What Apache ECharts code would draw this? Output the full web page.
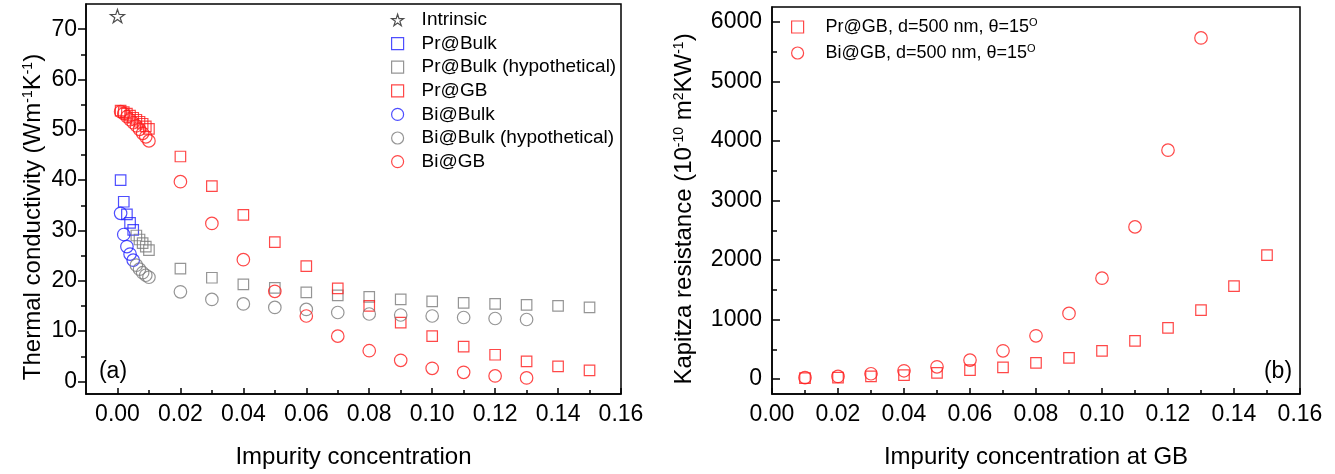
<!DOCTYPE html>
<html>
<head>
<meta charset="utf-8">
<script src="https://cdn.jsdelivr.net/npm/echarts@6/dist/echarts.min.js"></script>
<style>
  html, body { margin: 0; padding: 0; background: #fff; }
  #main { width: 1335px; height: 474px; }
</style>
</head>
<body>
<div id="main"></div>
<script>
// ---- data ----
var lowX = [0.001, 0.002, 0.003, 0.004, 0.005, 0.006, 0.007, 0.008, 0.009, 0.010]
var coarseX = [0.02, 0.03, 0.04, 0.05, 0.06, 0.07, 0.08, 0.09, 0.10, 0.11, 0.12, 0.13, 0.14, 0.15]

var intrinsicX = [0]
var intrinsic = [72.6]
var prBulk = [40.0, 35.7, 33.2, 31.5, 30.1]
var prBulkHyp = [29.0, 28.2, 27.5, 26.8, 26.1, 22.4, 20.6, 19.3, 18.6, 17.7, 17.1, 16.8, 16.3, 15.9, 15.6, 15.4, 15.2, 15.0, 14.7]
var prGB = [53.8, 53.5, 53.2, 52.8, 52.4, 52.0, 51.6, 51.2, 50.7, 50.2, 44.7, 38.8, 33.1, 27.7, 22.9, 18.5, 15.0, 11.7, 9.0, 6.9, 5.3, 4.0, 3.0, 2.2]
var biBulk = [33.4, 29.2, 26.8, 25.3, 24.1]
var biBulkHyp = [23.1, 22.3, 21.6, 21.1, 20.7, 17.8, 16.3, 15.4, 14.7, 14.3, 13.7, 13.4, 13.2, 13.0, 12.7, 12.5, 12.3]
var biGB = [53.6, 53.2, 52.6, 52.0, 51.4, 50.8, 50.1, 49.3, 48.6, 47.8, 39.7, 31.4, 24.2, 17.9, 13.0, 9.0, 6.1, 4.2, 2.6, 1.8, 1.1, 0.7]

var gbX = [0.01, 0.02, 0.03, 0.04, 0.05, 0.06, 0.07, 0.08, 0.09, 0.10, 0.11, 0.12, 0.13, 0.14, 0.15]
var prKapitza = [15, 25, 45, 67, 106, 151, 196, 274, 358, 475, 643, 862, 1159, 1562, 2082]
var biKapitza = [25, 45, 90, 140, 207, 319, 475, 727, 1103, 1696, 2557, 3846, 5731]

var xTicks = [0, 0.02, 0.04, 0.06, 0.08, 0.10, 0.12, 0.14, 0.16]
var xMinor = [0.01, 0.03, 0.05, 0.07, 0.09, 0.11, 0.13, 0.15]
var yTicksA = [0, 10, 20, 30, 40, 50, 60, 70]
var yMinorA = [5, 15, 25, 35, 45, 55, 65]
var yTicksB = [0, 1000, 2000, 3000, 4000, 5000, 6000]
var yMinorB = [500, 1500, 2500, 3500, 4500, 5500]

var FONT = '"Liberation Sans", Arial, sans-serif'
var RED = '#ff1a1a', BLUE = '#2222ff', GRAY = '#7a7a7a'
var STAR = 'path://M12,0 L14.8,8.6 L23.8,8.6 L16.5,13.9 L19.3,22.5 L12,17.2 L4.7,22.5 L7.5,13.9 L0.2,8.6 L9.2,8.6 Z'

var charts = function () {

}

charts.prototype = {
    init: function () {
        this.initChart()
    },
    pts: function (xs, ys) {
        return ys.map(function (y, i) { return [xs[i], y] })
    },
    scatter: function (name, xs, ys, symbol, size, color, grid) {
        return {
            name: name,
            type: 'scatter',
            xAxisIndex: grid * 2,
            yAxisIndex: grid * 2,
            symbol: symbol,
            symbolSize: size,
            symbolKeepAspect: true,
            itemStyle: { color: 'transparent', borderColor: color, borderWidth: 1.2 },
            emphasis: { disabled: true },
            data: this.pts(xs, ys)
        }
    },
    xAxis: function (grid, min, ticks, minor, name) {
        var major = {
            gridIndex: grid, type: 'value', position: 'bottom', min: min, max: 0.16,
            axisLine: { show: true, onZero: false, lineStyle: { color: '#000', width: 1.5 } }, splitLine: { show: false },
            axisTick: { show: true, inside: true, length: 6, customValues: ticks, lineStyle: { color: '#000', width: 1.5 } },
            axisLabel: { customValues: ticks, formatter: function (v) { return v.toFixed(2) }, fontSize: 23, fontFamily: FONT, color: '#000', margin: 9 },
            name: name, nameLocation: 'middle', nameGap: 51,
            nameTextStyle: { fontSize: 24, fontFamily: FONT, color: '#000' }
        }
        var small = {
            gridIndex: grid, type: 'value', position: 'bottom', min: min, max: 0.16,
            axisLine: { show: false, onZero: false }, splitLine: { show: false }, axisLabel: { show: false },
            axisTick: { show: true, inside: true, length: 4, customValues: minor, lineStyle: { color: '#000', width: 1.5 } }
        }
        return [major, small]
    },
    yAxis: function (grid, min, max, ticks, minor, inside, margin) {
        var major = {
            gridIndex: grid, type: 'value', position: 'left', min: min, max: max,
            axisLine: { show: true, onZero: false, lineStyle: { color: '#000', width: 1.5 } }, splitLine: { show: false },
            axisTick: { show: true, inside: inside, length: 8, customValues: ticks, lineStyle: { color: '#000', width: 1.5 } },
            axisLabel: { customValues: ticks, formatter: function (v) { return String(v) }, fontSize: 23, fontFamily: FONT, color: '#000', margin: margin }
        }
        var small = {
            gridIndex: grid, type: 'value', position: 'left', min: min, max: max,
            axisLine: { show: false, onZero: false }, splitLine: { show: false }, axisLabel: { show: false },
            axisTick: { show: true, inside: inside, length: 5, customValues: minor, lineStyle: { color: '#000', width: 1.5 } }
        }
        return [major, small]
    },
    initChart: function () {
        var myChart = echarts.init(document.getElementById('main'));
        var bulkX = lowX.slice(0, 5)
        var hypX = lowX.slice(5).concat(coarseX)
        var gbLeftX = lowX.concat(coarseX)
        var nameA = 'Pr@GB, d=500 nm, \u03b8=15'
        var nameB = 'Bi@GB, d=500 nm, \u03b8=15'

        var option = {
            animation: false,
            textStyle: { fontFamily: FONT },
            grid: [
                { left: 86, top: 4, width: 535, height: 392, show: true, borderColor: '#000', borderWidth: 1.5 },
                { left: 772, top: 7, width: 528, height: 387, show: true, borderColor: '#000', borderWidth: 1.5 }
            ],
            xAxis: this.xAxis(0, -0.01, xTicks, xMinor, 'Impurity concentration')
                .concat(this.xAxis(1, 0, xTicks, xMinor, 'Impurity concentration at GB')),
            yAxis: this.yAxis(0, -2.5, 75, yTicksA, yMinorA, false, 9)
                .concat(this.yAxis(1, -250, 6250, yTicksB, yMinorB, true, 10)),
            legend: [
                {
                    orient: 'vertical', left: 391, top: 10, padding: 0, itemWidth: 12, itemHeight: 12, itemGap: 3.6,
                    itemStyle: { borderWidth: 1.2 },
                    textStyle: { fontSize: 19, fontFamily: FONT, color: '#000', lineHeight: 20, padding: [0, 0, 0, 13] },
                    data: ['Intrinsic', 'Pr@Bulk', 'Pr@Bulk (hypothetical)', 'Pr@GB', 'Bi@Bulk', 'Bi@Bulk (hypothetical)', 'Bi@GB']
                },
                {
                    orient: 'vertical', left: 791, top: 17, padding: 0, itemWidth: 12, itemHeight: 12, itemGap: 6,
                    itemStyle: { borderWidth: 1.2 },
                    formatter: function (n) { return n + '{sup|O}' },
                    textStyle: {
                        fontSize: 18, fontFamily: FONT, color: '#000', lineHeight: 20, padding: [0, 0, 0, 17],
                        rich: { sup: { fontSize: 11, fontFamily: FONT, color: '#000', verticalAlign: 'top', lineHeight: 12 } }
                    },
                    data: [nameA, nameB]
                }
            ],
            graphic: [
                {
                    type: 'text', x: 33, y: 217, rotation: Math.PI / 2,
                    style: {
                        text: 'Thermal conductivity (Wm{sup|-1}K{sup|-1})', fontSize: 24, fontFamily: FONT, fill: '#000',
                        align: 'center', verticalAlign: 'middle',
                        rich: { sup: { fontSize: 14, fontFamily: FONT, fill: '#000', verticalAlign: 'top' } }
                    }
                },
                {
                    type: 'text', x: 684, y: 209, rotation: Math.PI / 2,
                    style: {
                        text: 'Kapitza resistance (10{sup|-10} m{sup|2}KW{sup|-1})', fontSize: 24, fontFamily: FONT, fill: '#000',
                        align: 'center', verticalAlign: 'middle',
                        rich: { sup: { fontSize: 14, fontFamily: FONT, fill: '#000', verticalAlign: 'top' } }
                    }
                },
                { type: 'text', x: 113, y: 372, style: { text: '(a)', fontSize: 23, fontFamily: FONT, fill: '#000', align: 'center', verticalAlign: 'middle' } },
                { type: 'text', x: 1278, y: 372, style: { text: '(b)', fontSize: 23, fontFamily: FONT, fill: '#000', align: 'center', verticalAlign: 'middle' } }
            ],
            series: [
                this.scatter('Intrinsic', intrinsicX, intrinsic, STAR, 14, '#222', 0),
                this.scatter('Pr@Bulk', bulkX, prBulk, 'rect', 10.5, BLUE, 0),
                this.scatter('Pr@Bulk (hypothetical)', hypX, prBulkHyp, 'rect', 10.5, GRAY, 0),
                this.scatter('Pr@GB', gbLeftX, prGB, 'rect', 10.5, RED, 0),
                this.scatter('Bi@Bulk', bulkX, biBulk, 'circle', 12.5, BLUE, 0),
                this.scatter('Bi@Bulk (hypothetical)', hypX, biBulkHyp, 'circle', 12.5, GRAY, 0),
                this.scatter('Bi@GB', gbLeftX, biGB, 'circle', 12.5, RED, 0),
                this.scatter(nameA, gbX, prKapitza, 'rect', 10.5, RED, 1),
                this.scatter(nameB, gbX, biKapitza, 'circle', 12.5, RED, 1)
            ]
        };

        myChart.setOption(option);
    }
}

new charts().init()
</script>
</body>
</html>
